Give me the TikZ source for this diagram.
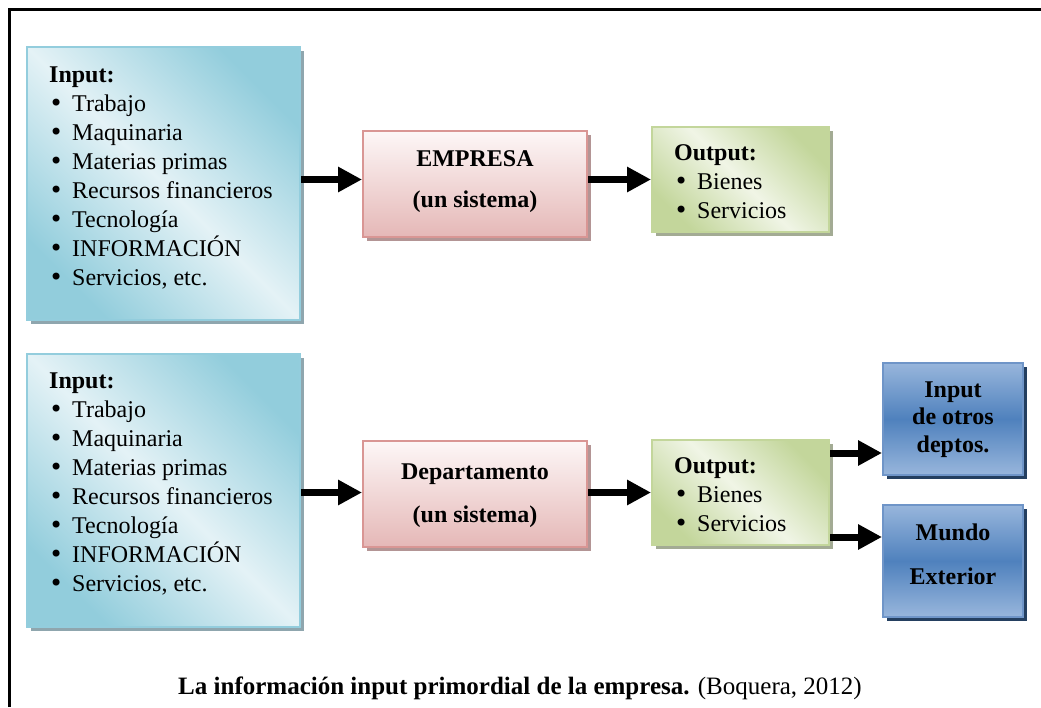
\documentclass[tikz,border=0pt]{standalone}
\usepackage{fontspec}
\setmainfont{Liberation Serif}
\newfontfamily\dejavu{DejaVu Sans}
\usetikzlibrary{shadows,arrows.meta,calc}

\definecolor{inDark}{HTML}{92CDDC}
\definecolor{inLight}{HTML}{E4F2F6}
\definecolor{inBorder}{HTML}{93CDDD}
\definecolor{inShadow}{HTML}{8FA6AE}
\definecolor{pkTop}{HTML}{FDF7F7}
\definecolor{pkBot}{HTML}{E5B8B7}
\definecolor{pkBorder}{HTML}{D99694}
\definecolor{pkShadow}{HTML}{B39595}
\definecolor{grDark}{HTML}{C3D69B}
\definecolor{grLight}{HTML}{F0F5E6}
\definecolor{grBorder}{HTML}{C3D69B}
\definecolor{grShadow}{HTML}{A3AB94}
\definecolor{blLight}{HTML}{98B6DC}
\definecolor{blMid}{HTML}{4F81BD}
\definecolor{blBorder}{HTML}{6F95C8}
\definecolor{blShadow}{HTML}{243F60}

\newcommand{\mybullet}{{\dejavu •}}
\newcommand{\myitem}[1]{\makebox[23pt][l]{\mybullet}#1}
\newcommand{\firstln}{\rule{0pt}{20pt}}

\begin{document}
\begin{tikzpicture}[x=1pt,y=-1pt,
  txt/.style={font=\fontsize{24}{29}\selectfont, inner sep=0pt, align=left, anchor=north west},
  ctxt/.style={inner sep=0pt, align=center, anchor=north},
  bx/.style={rectangle, inner sep=0pt, line width=2pt},
  inbox/.style={bx, draw=inBorder, top color=inDark, bottom color=inDark, middle color=inLight, shading angle=-45,
    drop shadow={shadow xshift=4pt, shadow yshift=-4pt, fill=inShadow, opacity=1},
    minimum width=273pt, minimum height=273pt},
  pkbox/.style={bx, draw=pkBorder, top color=pkTop, bottom color=pkBot,
    drop shadow={shadow xshift=4pt, shadow yshift=-4pt, fill=pkShadow, opacity=1},
    minimum width=224pt, minimum height=106pt},
  grbox/.style={bx, draw=grBorder, top color=grDark, bottom color=grDark, middle color=grLight, shading angle=-45,
    drop shadow={shadow xshift=4pt, shadow yshift=-4pt, fill=grShadow, opacity=1},
    minimum width=177pt, minimum height=105pt},
  blbox/.style={bx, draw=blBorder, top color=blLight, bottom color=blLight, middle color=blMid,
    drop shadow={shadow xshift=4pt, shadow yshift=-4pt, fill=blShadow, opacity=1},
    minimum width=140pt, minimum height=112pt},
  arr/.style={line width=7pt, -{Triangle[length=24pt,width=24pt]}},
  frame/.style={line width=2.5pt}
]
\useasboundingbox (0,0) rectangle (1041,707);

% frame
\draw[frame] (9.5,707) -- (9.5,9.5) -- (1041,9.5);

% ---------- top row ----------
\node[inbox] (in1) at (163.5,183.5) {};
\node[txt] (in1t) at (49,62) {\firstln\textbf{Input:}\\
  \myitem{Trabajo}\\ \myitem{Maquinaria}\\ \myitem{Materias primas}\\
  \myitem{Recursos financieros}\\ \myitem{Tecnología}\\ \myitem{INFORMACIÓN}\\
  \myitem{Servicios, etc.}};

\node[pkbox] (emp) at (475,183.5) {};
\node[ctxt, font=\fontsize{24}{41}\selectfont\bfseries] (empt) at (475,146) {\firstln EMPRESA\\(un sistema)};

\node[grbox] (out1) at (740.5,179.5) {};
\node[txt] (out1t) at (674,140) {\firstln\textbf{Output:}\\ \myitem{Bienes}\\ \myitem{Servicios}};

\draw[arr] (in1.east |- out1.west) -- (emp.west |- out1.west);
\draw[arr] (emp.east |- out1.west) -- (out1.west);

% ---------- bottom row ----------
\node[inbox] (in2) at (163.5,490) {};
\node[txt] (in2t) at (49,368) {\firstln\textbf{Input:}\\
  \myitem{Trabajo}\\ \myitem{Maquinaria}\\ \myitem{Materias primas}\\
  \myitem{Recursos financieros}\\ \myitem{Tecnología}\\ \myitem{INFORMACIÓN}\\
  \myitem{Servicios, etc.}};

\node[pkbox] (dep) at (475,493.5) {};
\node[ctxt, font=\fontsize{24}{43}\selectfont\bfseries] (dept) at (475,459) {\firstln Departamento\\(un sistema)};

\node[grbox] (out2) at (740.5,492.5) {};
\node[txt] (out2t) at (674,453) {\firstln\textbf{Output:}\\ \myitem{Bienes}\\ \myitem{Servicios}};

\node[blbox] (bl1) at (953,419) {};
\node[ctxt, font=\fontsize{24}{27.5}\selectfont\bfseries] (bl1t) at (953,377) {\firstln Input\\de otros\\deptos.};

\node[blbox] (bl2) at (953,561) {};
\node[ctxt, font=\fontsize{24}{44}\selectfont\bfseries] (bl2t) at (953,520) {\firstln Mundo\\Exterior};

\draw[arr] (in2.east |- out2.west) -- (dep.west |- out2.west);
\draw[arr] (dep.east |- out2.west) -- (out2.west);

\coordinate (a1) at ([yshift=-14pt]out2.north east);
\coordinate (a2) at ([yshift=9pt]out2.south east);
\draw[arr] (a1) -- (a1 -| bl1.west);
\draw[arr] (a2) -- (a2 -| bl2.west);

% caption
\node[anchor=base, inner sep=0pt, font=\fontsize{25}{30}\selectfont] (cap) at (520,694)
  {\textbf{La información input primordial de la empresa.} (Boquera, 2012)};
\end{tikzpicture}
\end{document}
